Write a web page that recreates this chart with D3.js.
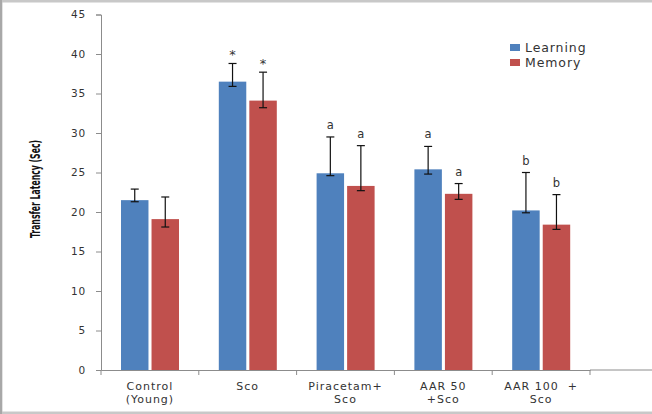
<!DOCTYPE html>
<html>
<head>
<meta charset="utf-8">
<script src="https://cdn.jsdelivr.net/npm/d3@7"></script>
<style>
  body { margin: 0; background: #fff; }
  svg { display: block; }
  text { white-space: pre; }
</style>
</head>
<body>
<svg id="chart"></svg>
<script>
const groups = ["Control\n(Young)", "Sco", "Piracetam+\nSco", "AAR 50\n+Sco", "AAR 100  +\nSco"];
const seriesNames = ["Learning", "Memory"];
const learning = [21.5, 36.5, 24.9, 25.4, 20.2];
const memory = [19.1, 34.1, 23.3, 22.3, 18.4];
// error bar ends (upper / lower)
const learningHi = [22.9, 38.8, 29.5, 28.3, 25.0];
const learningLo = [21.3, 35.9, 24.6, 24.8, 19.9];
const memoryHi = [21.9, 37.7, 28.4, 23.6, 22.2];
const memoryLo = [18.1, 33.2, 22.7, 21.6, 17.8];
const learningMark = ["", "*", "a", "a", "b"];
const memoryMark = ["", "*", "a", "a", "b"];
const yTicks = [0, 5, 10, 15, 20, 25, 30, 35, 40, 45];

const W = 652, H = 414;
const margin = {top: 14.5, right: 62, bottom: 44, left: 101};
const width = W - margin.left - margin.right,
    height = H - margin.top - margin.bottom;
const colors = ["#4f81bd", "#c0504d"];

const svg = d3.select("#chart").attr("width", W).attr("height", H);

// frame of the picture
svg.append("rect").attr("x", 0).attr("y", 0).attr("width", W + 5).attr("height", H)
    .attr("fill", "none").attr("stroke", "#c8c8c8").attr("stroke-width", 5);
svg.append("line").attr("x1", 1).attr("x2", 1).attr("y1", 0).attr("y2", H)
    .attr("stroke", "#a8a8a8").attr("stroke-width", 2);

const g = svg.append("g").attr("transform", `translate(${margin.left}, ${margin.top})`);

const x = d3.scaleBand().domain(groups).range([0, width]).paddingInner(0).paddingOuter(0);
const x1 = d3.scaleBand().domain(seriesNames).range([20, 78]).paddingInner(0.1);
const y = d3.scaleLinear().domain([0, 45]).range([height, 0]);

// y axis
const yAxis = g.append("g").call(d3.axisLeft(y).tickValues(yTicks).tickSize(5).tickPadding(10));
yAxis.selectAll("text").attr("font-family", "DejaVu Sans").attr("font-size", 10.5)
    .attr("fill", "#333").attr("letter-spacing", 0.8);
yAxis.selectAll("line, path").attr("stroke", "#8c8c8c");

// x axis
const xAxis = g.append("g").attr("transform", `translate(0, ${height})`)
    .call(d3.axisBottom(x).tickSize(0).tickFormat(""));
xAxis.select("path").attr("stroke", "#8c8c8c");
g.append("line").attr("x1", width).attr("x2", W - margin.left).attr("y1", height).attr("y2", height)
    .attr("stroke", "#8c8c8c");
const bounds = groups.map(d => x(d)).concat([width]);
g.selectAll(".xtick").data(bounds).enter().append("line")
    .attr("x1", d => d).attr("x2", d => d)
    .attr("y1", height).attr("y2", height + 5)
    .attr("stroke", "#8c8c8c");

// category labels
groups.forEach(grp => {
    const lines = grp.split("\n");
    const t = g.append("text")
        .attr("x", x(grp) + x.bandwidth() / 2)
        .attr("y", height + 20)
        .attr("text-anchor", "middle")
        .attr("font-family", "DejaVu Sans").attr("font-size", 11)
        .attr("letter-spacing", 1).attr("fill", "#333");
    lines.forEach((ln, i) => {
        t.append("tspan").attr("x", x(grp) + x.bandwidth() / 2)
            .attr("dy", i === 0 ? 0 : 12.5).text(ln);
    });
});

const series = [
    {name: "Learning", vals: learning, hi: learningHi, lo: learningLo, marks: learningMark},
    {name: "Memory", vals: memory, hi: memoryHi, lo: memoryLo, marks: memoryMark}
];

series.forEach((s, si) => {
    const sg = g.append("g");
    const rows = groups.map((grp, i) => ({grp, v: s.vals[i], hi: s.hi[i], lo: s.lo[i], m: s.marks[i]}));
    sg.selectAll("rect").data(rows).enter().append("rect")
        .attr("x", d => x(d.grp) + x1(s.name))
        .attr("y", d => y(d.v))
        .attr("width", x1.bandwidth())
        .attr("height", d => y(0) - y(d.v))
        .attr("fill", colors[si]);
    const cx = d => x(d.grp) + x1(s.name) + x1.bandwidth() / 2;
    sg.selectAll(".err").data(rows).enter().append("line")
        .attr("x1", cx).attr("x2", cx)
        .attr("y1", d => y(d.hi)).attr("y2", d => y(d.lo))
        .attr("stroke", "#111").attr("stroke-width", 1.2);
    ["hi", "lo"].forEach(k => {
        sg.selectAll(".cap" + k).data(rows).enter().append("line")
            .attr("x1", d => cx(d) - 4).attr("x2", d => cx(d) + 4)
            .attr("y1", d => y(d[k])).attr("y2", d => y(d[k]))
            .attr("stroke", "#111").attr("stroke-width", 1.2);
    });
    sg.selectAll(".mark").data(rows).enter().append("text")
        .attr("x", cx)
        .attr("y", d => y(d.hi) - (d.m === "*" ? 4 : 8))
        .attr("text-anchor", "middle")
        .attr("font-family", "DejaVu Sans")
        .attr("font-size", d => d.m === "*" ? 13 : 11.5)
        .attr("fill", "#333")
        .text(d => d.m);
});

// legend
const leg = svg.append("g").attr("transform", "translate(510, 44)");
seriesNames.forEach((n, i) => {
    leg.append("rect").attr("x", 0).attr("y", i * 15).attr("width", 10).attr("height", 7)
        .attr("fill", colors[i]);
    leg.append("text").attr("x", 15).attr("y", i * 15 + 8)
        .attr("font-family", "DejaVu Sans").attr("font-size", 12.5).attr("letter-spacing", 0.9)
        .attr("fill", "#333").text(n);
});

// y axis title
svg.append("text")
    .attr("transform", "translate(40, 189) rotate(-90)")
    .attr("text-anchor", "middle")
    .attr("font-family", "Liberation Sans Narrow, DejaVu Sans Condensed, sans-serif")
    .attr("font-size", 13.5).attr("font-weight", "bold")
    .attr("textLength", 98).attr("lengthAdjust", "spacingAndGlyphs")
    .attr("fill", "#111")
    .text("Transfer Latency (Sec)");
</script>
</body>
</html>
